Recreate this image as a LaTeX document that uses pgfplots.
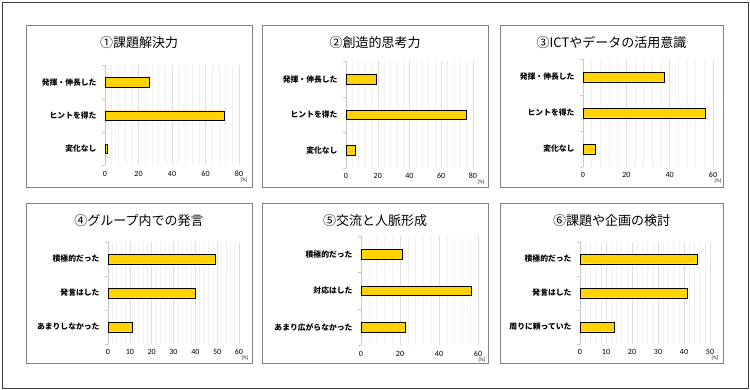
\documentclass[border=0pt]{standalone}
\usepackage{pgfplots}
\pgfplotsset{compat=1.18}
\usepackage{fontspec}
\setmainfont{Carlito}
\newfontfamily\jp{Noto Sans CJK JP}
\definecolor{barfill}{RGB}{255,210,0}
\definecolor{baredge}{RGB}{64,64,64}
\definecolor{axgray}{RGB}{200,200,200}
\definecolor{gridmaj}{RGB}{222,222,222}
\definecolor{gridmin}{RGB}{240,240,240}
\definecolor{boxgray}{RGB}{130,130,130}
\definecolor{outer}{RGB}{60,60,60}
\tikzset{pct/.style={font=\fontsize{5}{6}\selectfont, inner sep=0pt}}
\pgfplotsset{
  panel/.style={
    xbar, scale only axis, anchor=north west,
    xmin=0, ymin=-0.5, ymax=2.5, y dir=reverse,
    ytick={0,1,2}, minor ytick={-0.5,0.5,1.5,2.5},
    bar width=9.5pt,
    axis lines*=left,
    x axis line style={draw=none},
    y axis line style={draw=axgray},
    xmajorgrids, xminorgrids, minor x tick num=4,
    major grid style={draw=gridmaj, line width=0.5pt},
    minor grid style={draw=gridmin, line width=0.5pt},
    every major x tick/.append style={draw=none},
    every minor x tick/.append style={draw=none},
    every major y tick/.append style={draw=none},
    every minor y tick/.append style={draw=axgray},
    tick align=outside, minor tick length=3pt, major tick length=0pt,
    yticklabel style={font=\jp\bfseries\fontsize{7.8}{9}\selectfont, xshift=-5pt},
    xticklabel style={font=\fontsize{8}{9}\selectfont, yshift=-2pt},
    /pgf/number format/assume math mode=true,
    cycle list={{fill=barfill, draw=baredge, line width=0.9pt}},
  },
}
\begin{document}
\begin{tikzpicture}
\useasboundingbox (0,0) rectangle (750pt,390pt);
\fill[white] (0,0) rectangle (750pt,390pt);
\draw[outer, line width=0.8pt] (2pt,2pt) rectangle (748pt,388pt);
% panel boxes
\draw[boxgray, line width=0.8pt] (26pt,203pt) rectangle (252pt,365pt);
\draw[boxgray, line width=0.8pt] (262pt,203pt) rectangle (488pt,365pt);
\draw[boxgray, line width=0.8pt] (500pt,203pt) rectangle (723pt,365pt);
\draw[boxgray, line width=0.8pt] (26pt,27pt) rectangle (252pt,187pt);
\draw[boxgray, line width=0.8pt] (262pt,27pt) rectangle (488pt,187pt);
\draw[boxgray, line width=0.8pt] (500pt,27pt) rectangle (723pt,187pt);
% titles
\node[font=\jp\fontsize{13}{15}\selectfont] at (139pt,347pt) {①課題解決力};
\node[font=\jp\fontsize{13}{15}\selectfont] at (375pt,347pt) {②創造的思考力};
\node[font=\jp\fontsize{13}{15}\selectfont] at (611.5pt,347pt) {③ICTやデータの活用意識};
\node[font=\jp\fontsize{13}{15}\selectfont] at (139pt,169pt) {④グループ内での発言};
\node[font=\jp\fontsize{13}{15}\selectfont] at (375pt,169pt) {⑤交流と人脈形成};
\node[font=\jp\fontsize{13}{15}\selectfont] at (611.5pt,169pt) {⑥課題や企画の検討};
% panel 1
\begin{axis}[panel, at={(105pt,324.5pt)}, width=134pt, height=100pt, xmax=80,
  xtick={0,20,...,80}, yticklabels={発揮・伸長した,ヒントを得た,変化なし}, name=p1]
\addplot coordinates {(26.3,0) (71,1) (1.5,2)};
\end{axis}
\node[pct] at ([xshift=5pt,yshift=-14.5pt]p1.south east) {[\%]};
% panel 2
\begin{axis}[panel, at={(346pt,328.5pt)}, width=127pt, height=106.5pt, xmax=80,
  xtick={0,20,...,80}, yticklabels={発揮・伸長した,ヒントを得た,変化なし}, name=p2]
\addplot coordinates {(19,0) (75.5,1) (5.7,2)};
\end{axis}
\node[pct] at ([xshift=8pt,yshift=-14.5pt]p2.south east) {[\%]};
% panel 3
\begin{axis}[panel, at={(583pt,331pt)}, width=130pt, height=108pt, xmax=60,
  xtick={0,20,...,60}, yticklabels={発揮・伸長した,ヒントを得た,変化なし}, name=p3]
\addplot coordinates {(37.3,0) (56.2,1) (5.5,2)};
\end{axis}
\node[pct] at ([xshift=5pt,yshift=-14.5pt]p3.south east) {[\%]};
% panel 4
\begin{axis}[panel, at={(108pt,148pt)}, width=131pt, height=102pt, xmax=60,
  xtick={0,10,...,60}, yticklabels={積極的だった,発言はした,あまりしなかった}, name=p4]
\addplot coordinates {(49,0) (40,1) (11,2)};
\end{axis}
\node[pct] at ([xshift=6pt,yshift=-14.5pt]p4.south east) {[\%]};
% panel 5
\begin{axis}[panel, at={(361pt,154pt)}, width=117pt, height=109.5pt, xmax=60,
  xtick={0,20,...,60}, yticklabels={積極的だった,対応はした,あまり広がらなかった}, name=p5]
\addplot coordinates {(21,0) (56.4,1) (22.6,2)};
\end{axis}
\node[pct] at ([xshift=4pt,yshift=-14.5pt]p5.south east) {[\%]};
% panel 6
\begin{axis}[panel, at={(580pt,148pt)}, width=130pt, height=102pt, xmax=50,
  xtick={0,10,...,50}, yticklabels={積極的だった,発言はした,周りに頼っていた}, name=p6]
\addplot coordinates {(45,0) (41.2,1) (13,2)};
\end{axis}
\node[pct] at ([xshift=5pt,yshift=-14.5pt]p6.south east) {[\%]};
\end{tikzpicture}
\end{document}
